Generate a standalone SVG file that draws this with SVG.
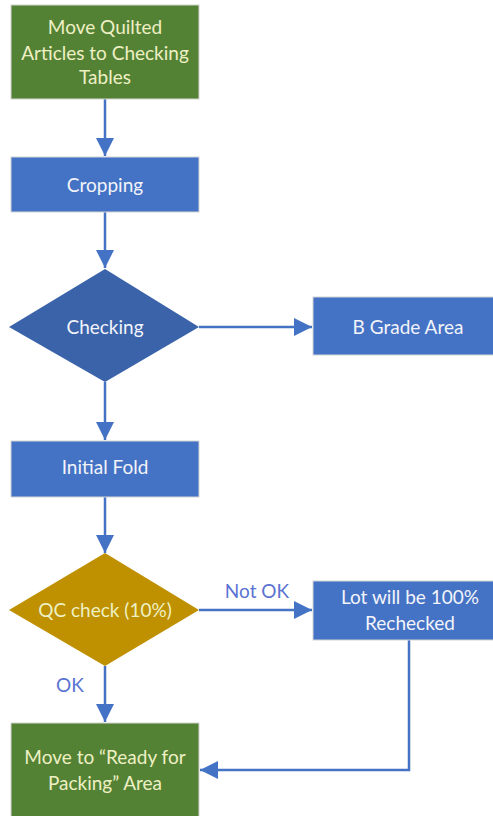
<svg xmlns="http://www.w3.org/2000/svg" width="493" height="816" viewBox="0 0 493 816">
  <style>
    .green { fill: #548235; stroke: #d4d4d4; stroke-width: 1; }
    .blue { fill: #4472C4; stroke: #d4d4d4; stroke-width: 1; }
    .dark { fill: #3A63AA; }
    .gold { fill: #BF9000; }
    text { font-family: Lato, "Liberation Sans", sans-serif; font-size: 19px; text-anchor: middle; }
    .tg { fill: #EEF0C4; }
    .tb { fill: #F2F4FA; }
    .lbl { fill: #5A72D2; }
    .conn { fill: none; stroke: #4472C4; stroke-width: 2.5; }
  </style>
  <defs>
    <marker id="arrow" viewBox="0 0 10 10" refX="10" refY="5" markerWidth="7.2" markerHeight="7.2" markerUnits="strokeWidth" orient="auto">
      <path d="M0,0 L10,5 L0,10 z" fill="#4472C4"/>
    </marker>
  </defs>

  <g id="connectors">
    <line class="conn" x1="105" y1="99" x2="105" y2="156" marker-end="url(#arrow)"/>
    <line class="conn" x1="105" y1="212" x2="105" y2="268" marker-end="url(#arrow)"/>
    <line class="conn" x1="199" y1="327" x2="312" y2="327" marker-end="url(#arrow)"/>
    <line class="conn" x1="105" y1="382" x2="105" y2="440" marker-end="url(#arrow)"/>
    <line class="conn" x1="105" y1="497" x2="105" y2="553" marker-end="url(#arrow)"/>
    <line class="conn" x1="199" y1="610" x2="312" y2="610" marker-end="url(#arrow)"/>
    <line class="conn" x1="105" y1="666" x2="105" y2="722" marker-end="url(#arrow)"/>
    <polyline class="conn" points="409,640 409,770 200,770" marker-end="url(#arrow)"/>
    <text class="lbl" x="257" y="598">Not OK</text>
    <text class="lbl" x="70" y="692">OK</text>
  </g>

  <g id="move-quilted">
    <rect class="green" x="11" y="5" width="188" height="94"/>
    <text class="tg" x="105" y="34">Move Quilted</text>
    <text class="tg" x="105" y="60">Articles to Checking</text>
    <text class="tg" x="105" y="84">Tables</text>
  </g>

  <g id="cropping">
    <rect class="blue" x="11" y="157" width="188" height="55"/>
    <text class="tb" x="105" y="192">Cropping</text>
  </g>

  <g id="checking">
    <polygon class="dark" points="105,269 199,327 105,382 9,327"/>
    <text class="tb" x="105" y="334">Checking</text>
  </g>

  <g id="b-grade">
    <rect class="blue" x="313" y="297" width="190" height="58"/>
    <text class="tb" x="408" y="334">B Grade Area</text>
  </g>

  <g id="initial-fold">
    <rect class="blue" x="11" y="441" width="188" height="56"/>
    <text class="tb" x="105" y="474">Initial Fold</text>
  </g>

  <g id="qc-check">
    <polygon class="gold" points="105,553 199,610 105,666 9,610"/>
    <text class="tg" x="105" y="617">QC check (10%)</text>
  </g>

  <g id="recheck">
    <rect class="blue" x="313" y="581" width="190" height="59"/>
    <text class="tb" x="410" y="604">Lot will be 100%</text>
    <text class="tb" x="410" y="630">Rechecked</text>
  </g>

  <g id="ready-for-packing">
    <rect class="green" x="11" y="723" width="188" height="100"/>
    <text class="tg" x="105" y="764">Move to “Ready for</text>
    <text class="tg" x="105" y="790">Packing” Area</text>
  </g>
</svg>
